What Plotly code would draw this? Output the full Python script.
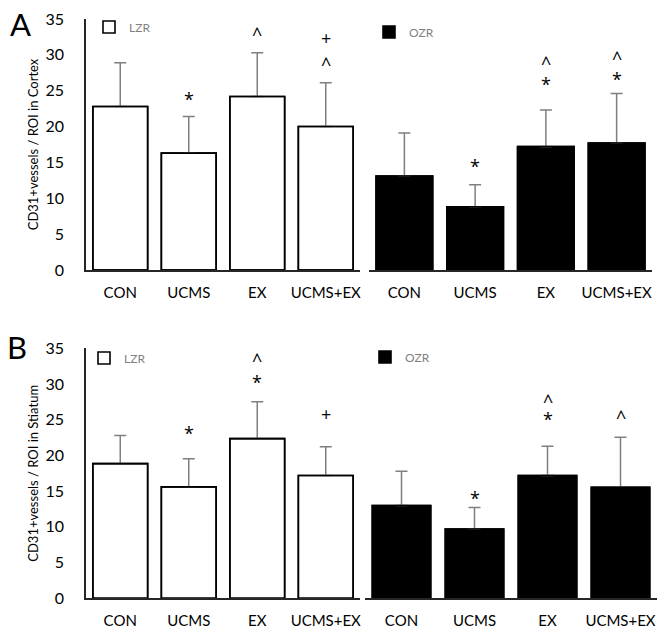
import plotly.graph_objects as go

categories = ["CON", "UCMS", "EX", "UCMS+EX"]

# Panel A (Cortex)
a_lzr_mean = [22.8, 16.3, 24.2, 20.0]
a_lzr_err = [6.1, 5.1, 6.1, 6.1]
a_ozr_mean = [13.1, 8.8, 17.2, 17.7]
a_ozr_err = [6.0, 3.1, 5.1, 6.9]

# Panel B (Striatum)
b_lzr_mean = [18.85, 15.6, 22.35, 17.2]
b_lzr_err = [3.95, 3.95, 5.15, 4.0]
b_ozr_mean = [13.0, 9.7, 17.2, 15.55]
b_ozr_err = [4.8, 3.0, 4.1, 7.0]

# significance symbols: (category, symbol, y value)
a_lzr_sig = [("UCMS", "*", 24.5), ("EX", "^", 33.5), ("UCMS+EX", "^", 29.3), ("UCMS+EX", "+", 32.3)]
a_ozr_sig = [("UCMS", "*", 15.2), ("EX", "*", 26.6), ("EX", "^", 29.4), ("UCMS+EX", "*", 27.3), ("UCMS+EX", "^", 30.1)]
b_lzr_sig = [("UCMS", "*", 23.8), ("EX", "*", 31.0), ("EX", "^", 33.9), ("UCMS+EX", "+", 25.8)]
b_ozr_sig = [("UCMS", "*", 14.8), ("EX", "*", 25.8), ("EX", "^", 28.2), ("UCMS+EX", "^", 25.9)]

y_title_a = "CD31+vessels / ROI in Cortex"
y_title_b = "CD31+vessels / ROI in Stiatum"

FONT = "Lato"
SYMFONT = "Open Sans"
W, H = 666, 638

fig = go.Figure()

panels = [
    ("x", "y", a_lzr_mean, a_lzr_err, "white", "LZR", "legend", a_lzr_sig),
    ("x2", "y2", a_ozr_mean, a_ozr_err, "black", "OZR", "legend2", a_ozr_sig),
    ("x3", "y3", b_lzr_mean, b_lzr_err, "white", "LZR", "legend3", b_lzr_sig),
    ("x4", "y4", b_ozr_mean, b_ozr_err, "black", "OZR", "legend4", b_ozr_sig),
]

annotations = []
sym_shift = {"*": -5, "^": -4, "+": 0}
for xa, ya, means, errs, fill, name, leg, sig in panels:
    fig.add_trace(go.Bar(
        x=categories, y=means, xaxis=xa, yaxis=ya,
        marker=dict(color=fill, line=dict(color="black", width=1.6)),
        error_y=dict(type="data", symmetric=False, array=errs, arrayminus=[0] * len(errs),
                     color="#7f7f7f", thickness=1.5, width=6),
        name=name, legend=leg, showlegend=True, hoverinfo="skip",
    ))
    fig.add_trace(go.Bar(
        x=categories, y=means, xaxis=xa, yaxis=ya,
        marker=dict(color="rgba(0,0,0,0)", line=dict(color="black", width=1.6)),
        showlegend=False, hoverinfo="skip",
    ))
    for cat, sym, yv in sig:
        annotations.append(dict(
            x=cat, y=yv, xref=xa, yref=ya, text=sym, showarrow=False,
            font=dict(family=SYMFONT, size=18, color="black"),
            xanchor="center", yanchor="middle", yshift=sym_shift[sym],
        ))

annotations.append(dict(x=21 / W, y=1 - 24 / H, xref="paper", yref="paper", text="A",
                        showarrow=False, font=dict(family=FONT, size=31, color="black"),
                        xanchor="center", yanchor="middle"))
annotations.append(dict(x=17 / W, y=1 - 347 / H, xref="paper", yref="paper", text="B",
                        showarrow=False, font=dict(family=FONT, size=31, color="black"),
                        xanchor="center", yanchor="middle"))

xa_dom = {
    "x": [86 / W, 360 / W],
    "x2": [369 / W, 652 / W],
    "x3": [86 / W, 360 / W],
    "x4": [365 / W, 657 / W],
}
ya_dom_top = [(H - 270) / H, (H - 19) / H]
ya_dom_bot = [(H - 598.3) / H, (H - 348.3) / H]

AXCOL = "#262626"

def xaxis(dom, anchor):
    return dict(domain=dom, anchor=anchor, type="category", showline=True, linecolor=AXCOL,
                linewidth=1.5, ticks="", showgrid=False, zeroline=False, automargin=False,
                tickfont=dict(family=FONT, size=15, color="black"), ticklabelstandoff=8,
                fixedrange=True)

def yaxis_left(dom, anchor, title):
    return dict(domain=dom, anchor=anchor, range=[0, 35], dtick=5, showline=True,
                linecolor=AXCOL, linewidth=1.5, ticks="", showgrid=False, zeroline=False,
                automargin=False,
                tickfont=dict(family=FONT, size=16, color="black"), ticklabelstandoff=17,
                title=dict(text=title, font=dict(family=FONT, size=13, color="black"), standoff=4))

def yaxis_right(dom, anchor):
    return dict(domain=dom, anchor=anchor, range=[0, 35], visible=False, showgrid=False,
                zeroline=False, automargin=False)

def legend(xc, yc):
    return dict(x=(xc - 21) / W, y=1 - yc / H, xanchor="left", yanchor="middle",
                bgcolor="rgba(0,0,0,0)", borderwidth=0,
                font=dict(family=FONT, size=12, color="#7f7f7f"), itemclick=False,
                itemdoubleclick=False, tracegroupgap=0)

fig.update_layout(
    width=W, height=H, margin=dict(l=0, r=0, t=0, b=0, autoexpand=False),
    paper_bgcolor="white", plot_bgcolor="white",
    barmode="overlay", bargap=0.2,
    xaxis=xaxis(xa_dom["x"], "y"),
    xaxis2=xaxis(xa_dom["x2"], "y2"),
    xaxis3=xaxis(xa_dom["x3"], "y3"),
    xaxis4=xaxis(xa_dom["x4"], "y4"),
    yaxis=yaxis_left(ya_dom_top, "x", y_title_a),
    yaxis2=yaxis_right(ya_dom_top, "x2"),
    yaxis3=yaxis_left(ya_dom_bot, "x3", y_title_b),
    yaxis4=yaxis_right(ya_dom_bot, "x4"),
    legend=legend(110, 27),
    legend2=legend(390, 32),
    legend3=legend(105, 358),
    legend4=legend(386, 357),
    annotations=annotations,
    font=dict(family=FONT),
)

fig.write_html("out.html", config={"displayModeBar": False},
               post_script="document.body.style.margin='0';document.body.style.overflow='hidden';")
